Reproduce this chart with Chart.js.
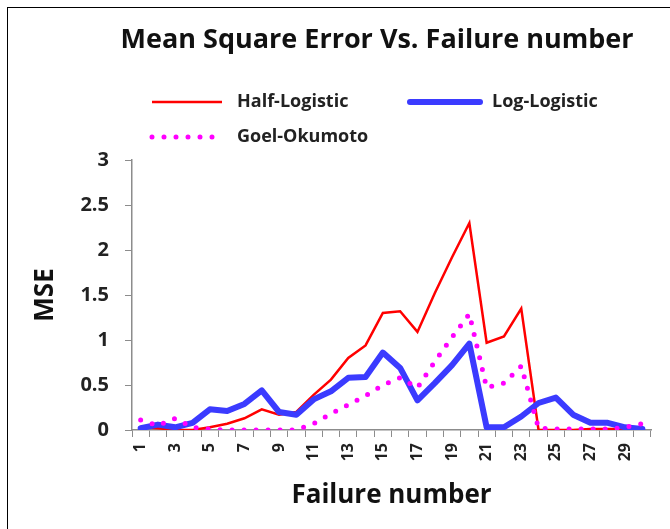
<!DOCTYPE html>
<html>
<head>
<meta charset="utf-8">
<script src="https://cdn.jsdelivr.net/npm/chart.js@4.4.1/dist/chart.umd.min.js"></script>
<style>
  html, body { margin: 0; padding: 0; background: #fff; }
  #wrap { position: relative; width: 670px; height: 529px; }
  #frame { position: absolute; left: 7px; top: 7px; right: 0; bottom: 0;
           border-left: 1.5px solid #000; border-top: 1.5px solid #000; pointer-events: none; }
  canvas { position: absolute; left: 0; top: 0; }
</style>
</head>
<body>
<div id="wrap">
  <canvas id="c" width="670" height="529"></canvas>
  <div id="frame"></div>
</div>
<script>
const chartTitle = 'Mean Square Error Vs. Failure number';
const xTitle = 'Failure number';
const yTitle = 'MSE';
const categories = ['1','2','3','4','5','6','7','8','9','10','11','12','13','14','15','16','17','18','19','20','21','22','23','24','25','26','27','28','29','30'];
const halfLogistic = [0.03,0.02,0.0,0.0,0.03,0.07,0.13,0.23,0.17,0.2,0.39,0.56,0.8,0.94,1.3,1.32,1.09,1.52,1.92,2.3,0.97,1.04,1.35,0.0,0.0,0.0,0.01,0.01,0.01,0.01];
const logLogistic = [0.02,0.06,0.03,0.08,0.23,0.21,0.29,0.44,0.2,0.17,0.34,0.43,0.58,0.59,0.86,0.69,0.33,0.52,0.72,0.96,0.03,0.03,0.15,0.3,0.36,0.17,0.08,0.08,0.03,0.01];
const goelOkumoto = [0.11,0.05,0.13,0.03,0.01,0.0,0.0,0.0,0.0,0.0,0.07,0.18,0.28,0.38,0.5,0.58,0.47,0.76,1.03,1.29,0.47,0.52,0.71,0.02,0.01,0.01,0.01,0.01,0.03,0.07];
const yTicks = [0, 0.5, 1, 1.5, 2, 2.5, 3];

const FONT = "'Open Sans', 'DejaVu Sans', sans-serif";
const TEXT = '#222';
const AXIS = '#8c8c8c';

const legendPlugin = {
  id: 'customLegendTitle',
  afterDraw(chart) {
    const ctx = chart.ctx;
    ctx.save();
    ctx.fillStyle = '#111';
    ctx.font = "bold 27px " + FONT;
    ctx.textAlign = 'center';
    ctx.textBaseline = 'middle';
    ctx.fillText(chartTitle, 377, 40);
    const items = [
      { ds: 0, x: 152, y: 102, len: 70, tx: 237 },
      { ds: 1, x: 410, y: 102, len: 70, tx: 492 },
      { ds: 2, x: 152, y: 137, len: 64, tx: 237 }
    ];
    ctx.font = "bold 18px " + FONT;
    ctx.textAlign = 'left';
    items.forEach(it => {
      const d = chart.data.datasets[it.ds];
      ctx.save();
      ctx.strokeStyle = d.borderColor;
      ctx.lineWidth = d.borderWidth;
      ctx.lineCap = d.borderCapStyle || 'butt';
      ctx.setLineDash(d.borderDash || []);
      ctx.beginPath();
      ctx.moveTo(it.x, it.y);
      ctx.lineTo(it.x + it.len, it.y);
      ctx.stroke();
      ctx.restore();
      ctx.fillStyle = TEXT;
      ctx.fillText(d.label, it.tx, it.y);
    });
    ctx.restore();
  }
};

new Chart(document.getElementById('c'), {
  type: 'line',
  data: {
    labels: categories,
    datasets: [
      { label: 'Half-Logistic', data: halfLogistic, borderColor: '#ff0000', borderWidth: 2.5,
        pointRadius: 0, tension: 0, borderCapStyle: 'butt', order: 3 },
      { label: 'Log-Logistic', data: logLogistic, borderColor: '#3b3bff', borderWidth: 6,
        pointRadius: 0, tension: 0, borderCapStyle: 'round', borderJoinStyle: 'round', order: 2 },
      { label: 'Goel-Okumoto', data: goelOkumoto, borderColor: '#ff00ff', borderWidth: 5,
        borderDash: [0, 12], borderCapStyle: 'round', pointRadius: 0, tension: 0, order: 1 }
    ]
  },
  options: {
    responsive: false,
    animation: false,
    devicePixelRatio: 1,
    layout: { padding: { left: 28, right: 19, top: 160, bottom: 16 } },
    plugins: { legend: { display: false }, title: { display: false }, tooltip: { enabled: false } },
    scales: {
      x: {
        offset: true,
        grid: { display: true, offset: true, drawOnChartArea: false, tickLength: 7, color: AXIS, lineWidth: 1 },
        border: { color: AXIS, width: 1.5 },
        ticks: {
          autoSkip: false, minRotation: 90, maxRotation: 90, padding: 6,
          color: TEXT, font: { family: FONT, size: 16, weight: 'bold' },
          callback: function(v, i) { return i % 2 === 0 ? categories[i] : ''; }
        },
        title: { display: true, text: xTitle, color: '#111', font: { family: FONT, size: 26, weight: 'bold' }, padding: { top: 4, bottom: 2 } },
        afterFit(scale) { scale.height = 83; }
      },
      y: {
        min: 0, max: 3,
        afterBuildTicks(scale) { scale.ticks = yTicks.map(v => ({ value: v })); },
        grid: { display: true, drawOnChartArea: false, tickLength: 7, color: AXIS, lineWidth: 1 },
        border: { color: AXIS, width: 1.5 },
        ticks: { color: TEXT, padding: 16, font: { family: FONT, size: 20, weight: 'bold' },
                 callback: function(v) { return String(v); } },
        title: { display: true, text: yTitle, color: '#111', font: { family: FONT, size: 26, weight: 'bold' }, padding: { top: 2, bottom: 4 } },
        afterFit(scale) { scale.width = 104; }
      }
    }
  },
  plugins: [legendPlugin]
});
</script>
</body>
</html>
